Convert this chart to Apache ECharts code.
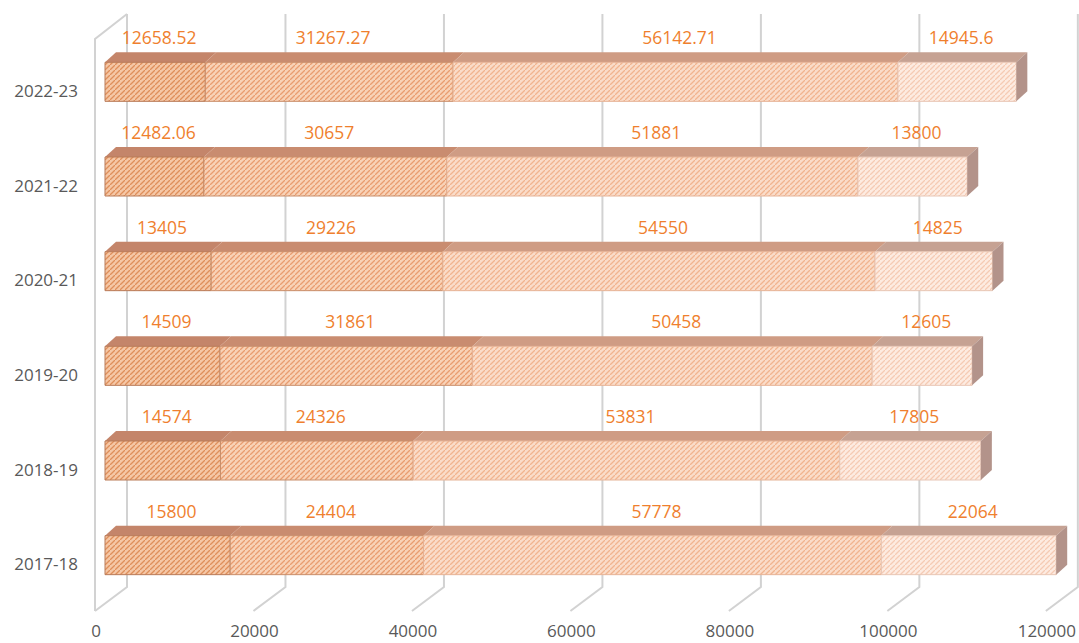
<!DOCTYPE html>
<html><head><meta charset="utf-8">
<script src="https://cdn.jsdelivr.net/npm/echarts@6/dist/echarts.min.js"></script>
<style>html,body{margin:0;padding:0;background:#fff}#c{width:1079px;height:643px}</style>
</head><body><div id="c"></div>
<script>
const categories = ['2017-18', '2018-19', '2019-20', '2020-21', '2021-22', '2022-23'];
const seriesA = [15800, 14574, 14509, 13405, 12482.06, 12658.52];
const seriesB = [24404, 24326, 31861, 29226, 30657, 31267.27];
const seriesC = [57778, 53831, 50458, 54550, 51881, 56142.71];
const seriesD = [22064, 17805, 12605, 14825, 13800, 14945.6];
const xTicks = [0, 20000, 40000, 60000, 80000, 100000, 120000];

const allSeries = [seriesA, seriesB, seriesC, seriesD];

function hatch(base, line) {
  const s = 5;
  const c = document.createElement('canvas'); c.width = s; c.height = s;
  const g = c.getContext('2d');
  g.fillStyle = base; g.fillRect(0, 0, s, s);
  g.strokeStyle = line; g.lineWidth = 1.3;
  g.beginPath();
  g.moveTo(-1, s + 1); g.lineTo(s + 1, -1);
  g.moveTo(-s - 1, 1); g.lineTo(1, -s - 1);
  g.moveTo(s - 1, 2 * s + 1); g.lineTo(2 * s + 1, s - 1);
  g.stroke();
  return { image: c, repeat: 'repeat' };
}

const styles = [
  { front: hatch('#f5c7a6', '#df8f5b'), top: '#c4856a', stroke: '#b97a57' },
  { front: hatch('#f8d2b7', '#e99d70'), top: '#c98c70', stroke: '#c98e6a' },
  { front: hatch('#fadcc9', '#f1b48f'), top: '#cf9c84', stroke: '#e6b396' },
  { front: hatch('#fdebe1', '#f5cbb4'), top: '#c6a293', stroke: '#e8c6b5' }
];

const DX = 11, DY = 10, SHIFT = 9, H = 39;

function barSeries(idx) {
  const data = categories.map((c, i) => {
    let start = 0;
    for (let k = 0; k < idx; k++) start += allSeries[k][i];
    return [start, start + allSeries[idx][i], i, allSeries[idx][i]];
  });
  const st = styles[idx];
  return {
    type: 'custom',
    name: 'S' + (idx + 1),
    data: data,
    encode: { x: [0, 1], y: 2 },
    z: 3 + idx,
    renderItem: function (params, api) {
      const p0 = api.coord([api.value(0), api.value(2)]);
      const p1 = api.coord([api.value(1), api.value(2)]);
      const x0 = p0[0] + SHIFT, x1 = p1[0] + SHIFT;
      const top = p0[1] - 28, bot = top + H;
      const children = [
        { type: 'polygon', shape: { points: [[x0, top], [x0 + DX, top - DY], [x1 + DX, top - DY], [x1, top]] },
          style: { fill: st.top, stroke: null } },
        { type: 'rect', shape: { x: x0, y: top, width: x1 - x0, height: H },
          style: { fill: st.front, stroke: st.stroke, lineWidth: 1 } }
      ];
      if (idx === allSeries.length - 1) {
        children.push({ type: 'polygon', shape: { points: [[x1, top], [x1 + DX, top - DY], [x1 + DX, bot - DY], [x1, bot]] },
          style: { fill: '#b3938a', stroke: null } });
      }
      children.push({ type: 'text', style: {
        text: String(api.value(3)), x: (x0 + x1) / 2 + 4, y: top - 25,
        align: 'center', verticalAlign: 'middle',
        fill: '#ef7f2e', font: '17.5px "Open Sans"' } });
      return { type: 'group', children: children };
    }
  };
}

const gridSeries = {
  type: 'custom',
  data: xTicks.map(v => [v, 0]),
  encode: { x: 0, y: 1 },
  z: 1,
  silent: true,
  renderItem: function (params, api) {
    const cs = params.coordSys;
    const xf = api.coord([api.value(0), 0])[0] - 1;
    const xb = xf + 32;
    const yb = cs.y + cs.height;
    const children = [{ type: 'polyline', shape: { points: [[xf, yb], [xb, yb - 24], [xb, 14]] },
      style: { stroke: '#d2d2d2', lineWidth: 2, fill: null } }];
    if (api.value(0) === 0) {
      children.push({ type: 'polyline', shape: { points: [[xf, yb], [xf, 39], [xb, 14]] },
        style: { stroke: '#d2d2d2', lineWidth: 2, fill: null } });
    }
    return { type: 'group', children: children };
  }
};

const chart = echarts.init(document.getElementById('c'), null, { renderer: 'svg' });
chart.setOption({
  backgroundColor: '#ffffff',
  animation: false,
  grid: { left: 96, right: 31, top: 43, bottom: 32 },
  xAxis: {
    type: 'value', min: 0, max: 120000, interval: 20000,
    axisLine: { show: false }, axisTick: { show: false }, splitLine: { show: false },
    axisLabel: { color: '#595959', fontSize: 17, fontFamily: 'Open Sans', margin: 11,
      formatter: function (v) { return String(v); } }
  },
  yAxis: {
    type: 'category', data: categories,
    axisLine: { show: false }, axisTick: { show: false }, splitLine: { show: false },
    axisLabel: { color: '#595959', fontSize: 17, fontFamily: 'Open Sans', margin: 18 }
  },
  series: [gridSeries, barSeries(0), barSeries(1), barSeries(2), barSeries(3)]
});
</script>
</body></html>
